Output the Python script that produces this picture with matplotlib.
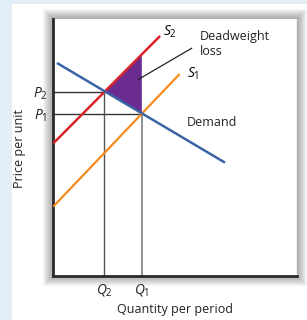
import matplotlib
matplotlib.use("Agg")
import matplotlib.pyplot as plt
from matplotlib.patches import Rectangle, Polygon
import numpy as np

# ---- data (axis units 0..10) ----
Q2, Q1 = 2.11, 3.64
P2, P1 = 7.16, 6.30
demand_q = [0.16, 7.05]
demand_p = [8.29, 4.41]
s2_q = [0.01, 4.39]
s2_p = [5.16, 9.34]
s1_q = [0.01, 5.19]
s1_p = [2.70, 7.86]
dwl_q = [Q2, Q1, Q1]
dwl_p = [P2, P1, 8.63]
leader_q = [5.68, 3.50]
leader_p = [8.86, 7.65]
xtick_labels = ["$Q_2$", "$Q_1$"]
ytick_labels = ["$P_1$", "$P_2$"]

plt.rcParams['font.family'] = ['Open Sans', 'DejaVu Sans']
plt.rcParams['mathtext.fontset'] = 'custom'
plt.rcParams['mathtext.it'] = 'Open Sans:italic'
plt.rcParams['mathtext.rm'] = 'Open Sans'

W, H = 307, 320
fig = plt.figure(figsize=(W / 100, H / 100), dpi=100)
fig.patch.set_facecolor('#e3eef8')

# white panel
fig.add_artist(Rectangle((12 / W, 0), 1 - 12 / W, (H - 4) / H, transform=fig.transFigure,
                         facecolor='white', edgecolor='none', zorder=-10))

ax_l, ax_r, ax_t, ax_b = 53, 297, 19, 276
left = ax_l / W
bottom = 1 - ax_b / H
width = (ax_r - ax_l) / W
height = (ax_b - ax_t) / H

# soft drop shadow
for i in range(1, 11):
    fig.add_artist(Rectangle(((ax_l - i) / W, 1 - (ax_b + i) / H),
                             (ax_r - ax_l + 2 * i) / W, (ax_b - ax_t + 2 * i) / H,
                             transform=fig.transFigure, facecolor='black',
                             edgecolor='none', alpha=0.035, zorder=-5))

ax = fig.add_axes([left, bottom, width, height])
ax.set_xlim(0, 10)
ax.set_ylim(0, 10)
ax.set_facecolor('white')

ax.spines['top'].set_visible(False)
ax.spines['left'].set_color('#2a2a2a')
ax.spines['left'].set_linewidth(2.0)
ax.spines['bottom'].set_color('#2a2a2a')
ax.spines['bottom'].set_linewidth(2.0)
ax.spines['right'].set_color('#b0b0b0')
ax.spines['right'].set_linewidth(1.0)

# guide lines
ax.plot([0, Q2], [P2, P2], color='#333333', lw=1.0, zorder=2)
ax.plot([0, Q1], [P1, P1], color='#333333', lw=1.0, zorder=2)
ax.plot([Q2, Q2], [0, P2], color='#555555', lw=1.0, zorder=2)
ax.plot([Q1, Q1], [0, P1], color='#8a8a8a', lw=1.3, zorder=2)

# deadweight loss triangle
ax.add_patch(Polygon(np.column_stack([dwl_q, dwl_p]), closed=True,
                     facecolor='#6b2c91', edgecolor='none', zorder=3))

ax.plot(s1_q, s1_p, color='#f58a1f', lw=1.6, zorder=4, solid_capstyle='butt')
ax.plot(s2_q, s2_p, color='#d8232a', lw=1.8, zorder=4, solid_capstyle='butt')
ax.plot(demand_q, demand_p, color='#3b64a6', lw=1.8, zorder=5, solid_capstyle='butt')
ax.plot(leader_q, leader_p, color='#222222', lw=0.9, zorder=5)

fs = 9
mfs = 10
ax.text(4.50, 9.49, "$S_2$", fontsize=mfs, ha='left', va='center')
ax.text(5.49, 7.86, "$S_1$", fontsize=mfs, ha='left', va='center')
ax.text(6.02, 9.30, "Deadweight", fontsize=fs, ha='left', va='center', color='#222222')
ax.text(6.02, 8.72, "loss", fontsize=fs, ha='left', va='center', color='#222222')
ax.text(5.48, 5.97, "Demand", fontsize=fs, ha='left', va='center', color='#222222')

ax.set_xticks([Q2, Q1])
ax.set_xticklabels(xtick_labels, fontsize=mfs)
ax.set_yticks([P1, P2])
ax.set_yticklabels(ytick_labels, fontsize=mfs)
ax.tick_params(length=0, pad=4, colors='#222222')

ax.text(0.5, -0.13, "Quantity per period", transform=ax.transAxes, fontsize=fs,
        ha='center', va='center', color='#222222')
fig.text(20 / W, 1 - 148 / H, "Price per unit", rotation=90, fontsize=fs,
         ha='center', va='center', color='#222222')

fig.savefig("out.png", dpi=100)
